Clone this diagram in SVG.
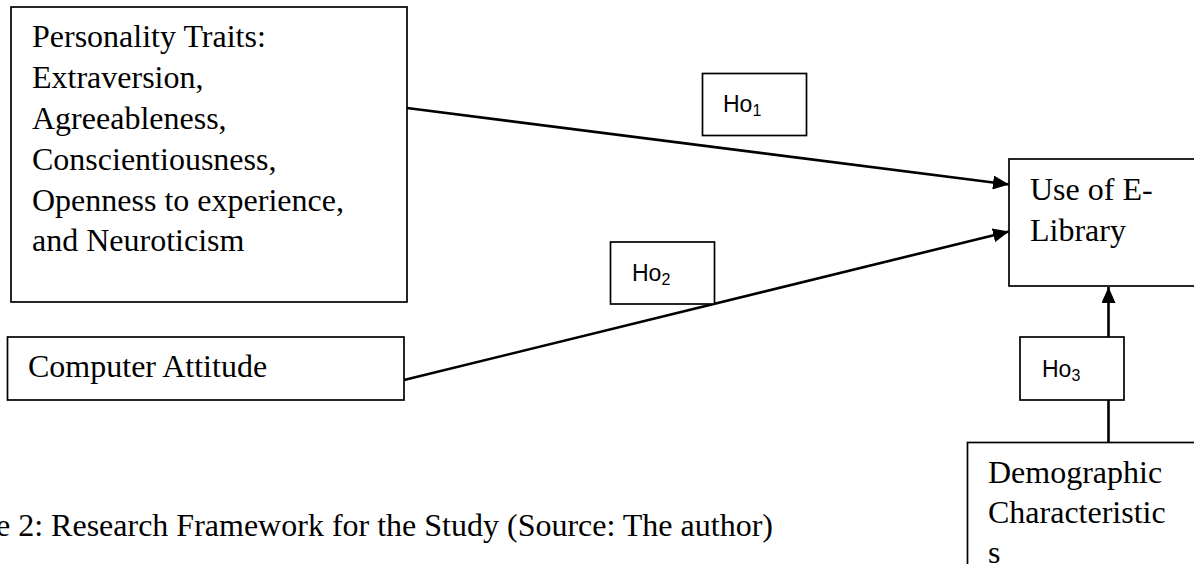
<svg xmlns="http://www.w3.org/2000/svg" width="1194" height="573" viewBox="0 0 1194 573">
  <defs>
    <style>
      .box { fill: #ffffff; stroke: #000000; stroke-width: 1.7; }
      .serif { font-family: "Liberation Serif", "Times New Roman", serif; font-size: 32px; fill: #000000; }
      .sans { font-family: "Liberation Sans", "DejaVu Sans", Arial, sans-serif; font-size: 23px; fill: #000000; }
      .sub { font-size: 16px; }
      .conn { stroke: #000000; stroke-width: 2.6; fill: none; }
    </style>
    <marker id="arrow" markerUnits="userSpaceOnUse" markerWidth="18" markerHeight="14" refX="16" refY="7" orient="auto">
      <path d="M0,0 L16,7 L0,14 Z" fill="#000000"/>
    </marker>
    <clipPath id="clipBottom">
      <rect x="0" y="0" width="1194" height="564"/>
    </clipPath>
  </defs>
  <rect x="0" y="0" width="1194" height="573" fill="#ffffff"/>

  <g id="connectors">
    <line class="conn" x1="407" y1="108" x2="1009" y2="184.5" marker-end="url(#arrow)"/>
    <line class="conn" x1="404" y1="380" x2="1009" y2="231.5" marker-end="url(#arrow)"/>
    <line class="conn" x1="1108.5" y1="442" x2="1108.5" y2="287" marker-end="url(#arrow)"/>
  </g>

  <g id="personality">
    <rect class="box" x="11" y="7" width="396" height="295"/>
    <text class="serif" x="32" y="47">Personality Traits:</text>
    <text class="serif" x="32" y="88">Extraversion,</text>
    <text class="serif" x="32" y="129">Agreeableness,</text>
    <text class="serif" x="32" y="170">Conscientiousness,</text>
    <text class="serif" x="32" y="211">Openness to experience,</text>
    <text class="serif" x="32" y="251">and Neuroticism</text>
  </g>

  <g id="computer-attitude">
    <rect class="box" x="7.5" y="337" width="396.5" height="63"/>
    <text class="serif" x="28" y="377">Computer Attitude</text>
  </g>

  <g id="use-elibrary">
    <rect class="box" x="1009" y="159" width="190" height="127"/>
    <text class="serif" x="1030" y="200">Use of E-</text>
    <text class="serif" x="1030" y="241">Library</text>
  </g>

  <g id="demographic" clip-path="url(#clipBottom)">
    <rect class="box" x="967.5" y="442.5" width="232" height="140"/>
    <text class="serif" x="988" y="483">Demographic</text>
    <text class="serif" x="988" y="523">Characteristic</text>
    <text class="serif" x="988" y="563">s</text>
  </g>

  <g id="ho1">
    <rect class="box" x="702.5" y="73.5" width="104" height="62"/>
    <text class="sans" x="723" y="112">Ho<tspan class="sub" dy="4">1</tspan></text>
  </g>

  <g id="ho2">
    <rect class="box" x="610.5" y="242" width="104" height="62"/>
    <text class="sans" x="632" y="281">Ho<tspan class="sub" dy="4">2</tspan></text>
  </g>

  <g id="ho3">
    <rect class="box" x="1020" y="337" width="104" height="63"/>
    <text class="sans" x="1042" y="377">Ho<tspan class="sub" dy="4">3</tspan></text>
  </g>

  <g id="caption">
    <text class="serif" x="-4" y="536">e 2: Research Framework for the Study (Source: The author)</text>
  </g>
</svg>
